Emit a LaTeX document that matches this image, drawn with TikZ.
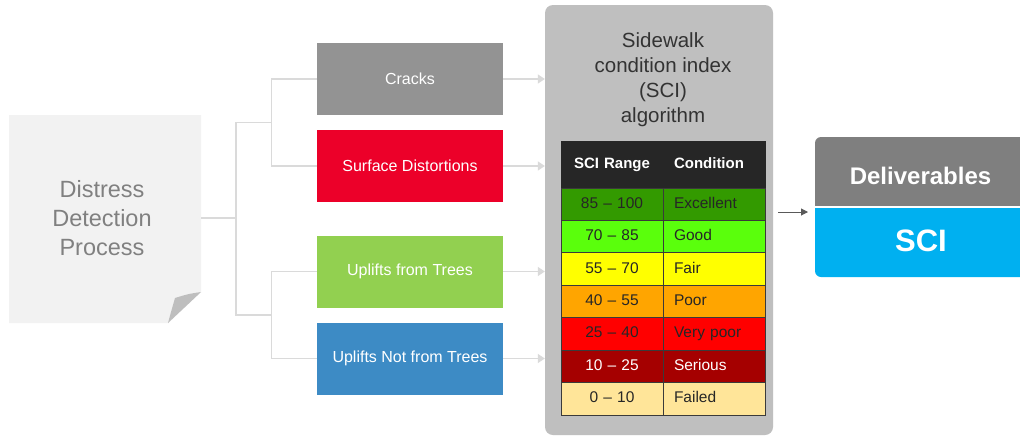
\documentclass[tikz,border=0pt]{standalone}
\usepackage{fontspec}
\setmainfont{Liberation Sans}
\usetikzlibrary{arrows.meta,calc}

\definecolor{paperfill}{HTML}{F2F2F2}
\definecolor{foldgray}{HTML}{BEBEBE}
\definecolor{papertext}{HTML}{808080}
\definecolor{connline}{HTML}{DADADA}
\definecolor{crackgray}{HTML}{939393}
\definecolor{surfred}{HTML}{EC0029}
\definecolor{treegreen}{HTML}{92D050}
\definecolor{notblue}{HTML}{3D8BC5}
\definecolor{panelgray}{HTML}{BFBFBF}
\definecolor{titletext}{HTML}{333333}
\definecolor{hdrfill}{HTML}{262626}
\definecolor{cellline}{HTML}{3A3A3A}
\definecolor{celltext}{HTML}{262626}
\definecolor{cExc}{HTML}{339A00}
\definecolor{cGood}{HTML}{5AFF0C}
\definecolor{cFair}{HTML}{FFFF00}
\definecolor{cPoor}{HTML}{FFA500}
\definecolor{cVery}{HTML}{FF0000}
\definecolor{cSer}{HTML}{A50000}
\definecolor{cFail}{HTML}{FFE599}
\definecolor{delivgray}{HTML}{7F7F7F}
\definecolor{sciblue}{HTML}{00B0F0}
\definecolor{arrowdark}{HTML}{595959}

\begin{document}
\begin{tikzpicture}[x=1pt,y=-1pt,
  conn/.style={draw=connline, line width=1.2pt},
  feed/.style={conn, -{Triangle[length=7pt,width=9pt]}},
  branch/.style={rectangle, minimum width=186pt, minimum height=72pt, inner sep=0pt,
    text=white, font=\fontsize{16}{19}\selectfont},
  cellbase/.style={rectangle, minimum height=32.43pt, inner ysep=0pt, inner xsep=11pt,
    text width=80pt, text height=11pt, text depth=3pt,
    draw=cellline, line width=0.8pt, font=\fontsize{15.5}{18}\selectfont},
  rangecell/.style={cellbase, align=center},
  condcell/.style={cellbase, align=left},
  hdrcell/.style={cellbase, minimum height=47pt, fill=hdrfill, draw=hdrfill,
    text=white, font=\bfseries\fontsize{15}{18}\selectfont},
]
\useasboundingbox (0,0) rectangle (1020,437);
\fill[white] (0,0) rectangle (1020,437);

% sheet of paper with a folded corner
\fill[paperfill] (9,115) -- (201,115) -- (201,292) -- (168,323) -- (9,323) -- cycle;
\fill[foldgray] (168,323) .. controls (171,312) .. (175,298) .. controls (188,294) .. (201,292) -- cycle;
\node[rectangle, minimum width=192pt, minimum height=208pt, inner sep=0pt,
  text=papertext, font=\fontsize{23.5}{29}\selectfont] (paper) at (105,218) {};
\node[align=center, text=papertext, font=\fontsize{23.5}{29}\selectfont] (papertxt) at (102,218)
  {Distress\\Detection\\Process};

% distress categories
\node[branch, fill=crackgray] (cracks)   at (410,79)    {Cracks};
\node[branch, fill=surfred]   (surface)  at (410,166)   {Surface Distortions};
\node[branch, fill=treegreen] (trees)    at (410,271.5) {Uplifts from Trees};
\node[branch, fill=notblue]   (nottrees) at (410,358.5) {Uplifts Not from Trees};

% tree of connectors
\coordinate (hub) at (236,218);
\draw[conn] (paper.east) -- (hub);
\draw[conn] ($(cracks.west)!.5!(surface.west)+(-45,0)$) -| (hub)
            |- ($(trees.west)!.5!(nottrees.west)+(-45,0)$);
\draw[conn] (cracks.west) -- ++(-45,0) |- (surface.west);
\draw[conn] (trees.west) -- ++(-45,0) |- (nottrees.west);

% algorithm panel
\node[rectangle, rounded corners=8pt, fill=panelgray, minimum width=228pt,
  minimum height=430pt, inner sep=0pt] (panel) at (659,220) {};
\node[align=center, text=titletext, font=\fontsize{20.5}{25}\selectfont] (title) at (663,80)
  {Sidewalk\\condition index\\(SCI)\\algorithm};

\foreach \n in {cracks,surface,trees,nottrees}
  \draw[feed] (\n.east) -- (\n.east -| panel.west);

% SCI table
\node[hdrcell, align=center] (h1) at (612,164.5) {SCI Range};
\node[hdrcell, align=left]   (h2) at (714,164.5) {Condition};
\foreach \rng/\cond/\fc/\tc [count=\i] in {
    85 – 100/Excellent/cExc/celltext,
    70 – 85/Good/cGood/celltext,
    55 – 70/Fair/cFair/celltext,
    40 – 55/Poor/cPoor/celltext,
    25 – 40/Very poor/cVery/celltext,
    10 – 25/Serious/cSer/white,
    0 – 10/Failed/cFail/celltext} {
  \node[rangecell, fill=\fc, text=\tc] (r\i) at (612,{188+32.43*(\i-0.5)}) {\rng};
  \node[condcell,  fill=\fc, text=\tc] (c\i) at (714,{188+32.43*(\i-0.5)}) {\cond};
}

% deliverables block
\fill[delivgray, rounded corners=6pt] (815,137) rectangle (1030,190);
\fill[delivgray] (815,165) rectangle (1030,206);
\fill[sciblue, rounded corners=6pt] (815,225) rectangle (1030,277);
\fill[sciblue] (815,208) rectangle (1030,250);
\node[anchor=base, text=white, font=\bfseries\fontsize{24}{28}\selectfont] (deliv) at (920.5,184) {Deliverables};
\node[anchor=base, text=white, font=\bfseries\fontsize{31}{36}\selectfont] (sci) at (921,251.5) {SCI};

\coordinate (outtail) at (778,212);
\coordinate (outhead) at (808,212);
\draw[draw=arrowdark, line width=1pt, -{Triangle[length=7pt,width=7pt]}] (outtail) -- (outhead);
\end{tikzpicture}
\end{document}
